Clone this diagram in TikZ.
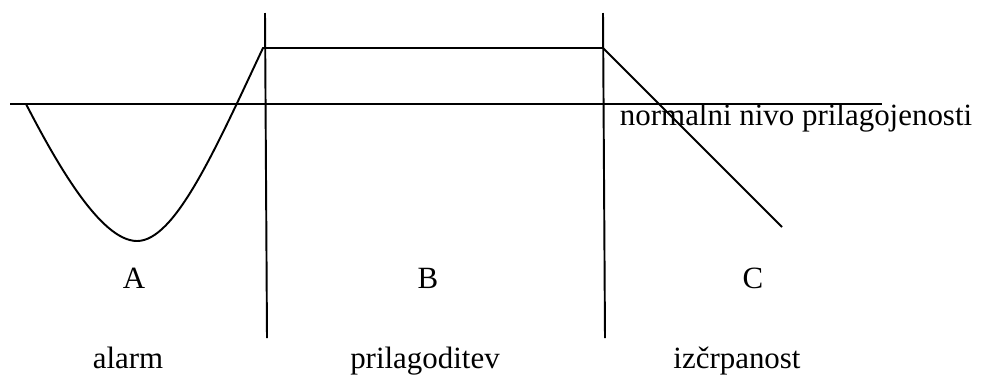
\documentclass[tikz,border=0pt]{standalone}
\usepackage{fontspec}
\setmainfont{Liberation Serif}
\usetikzlibrary{positioning}

\begin{document}
\begin{tikzpicture}[x=0.2mm, y=-0.2mm, line width=1.1pt, every node/.style={font=\fontsize{17.6}{21}\selectfont, inner sep=0pt}]
\tikzstyle{phase}=[anchor=base]
\tikzstyle{stage}=[anchor=base]
\useasboundingbox (0,0) rectangle (987,374);
% dividing lines and levels
\coordinate (d1top) at (265,13);
\coordinate (d1bot) at (267,338);
\coordinate (d2top) at (603,13);
\coordinate (d2bot) at (605,338);
\coordinate (nl) at (10,104);
\coordinate (nr) at (882,104);
\coordinate (start) at (26,104);
\coordinate (low) at (137,241);
\coordinate (peak) at (263,48);
\coordinate (drop) at (603,48);
\coordinate (end) at (782,227);
\draw (d1top) -- (d1bot);
\draw (d2top) -- (d2bot);
\draw (nl) -- (nr);
% curve of resistance
\draw (start) .. controls (55,160) and (100,241) .. (low)
      .. controls (175,241) and (215,150) .. (peak) -- (drop) -- (end);
\node[anchor=base west] (normal) at (619,125) {normalni nivo prilagojenosti};
\node[phase] (a) at (134,288) {A};
\node[phase] (b) at (428,288) {B};
\node[phase] (c) at (753,288) {C};
\node[stage] (alarm) at (128,368) {alarm};
\node[stage] (prilag) at (425,368) {prilagoditev};
\node[stage] (izcrp) at (737,368) {izčrpanost};
\end{tikzpicture}
\end{document}
